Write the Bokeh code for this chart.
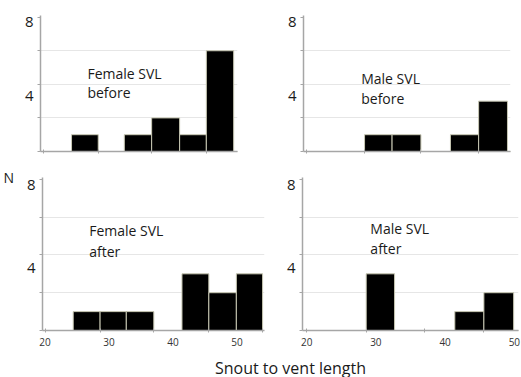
from bokeh.plotting import figure
from bokeh.layouts import column, row
from bokeh.models import Range1d, FixedTicker, Label
from bokeh.embed import file_html
from bokeh.resources import INLINE

# ---- data ----
bin_left = [24.4, 28.6, 32.7, 37.0, 41.4, 45.6, 49.9]
bin_right = [28.6, 32.7, 37.0, 41.4, 45.6, 49.9, 54.0]
female_before = [1, 0, 1, 2, 1, 6, 0]
male_before = [0, 1, 1, 0, 1, 3, 0]
female_after = [1, 1, 1, 0, 3, 2, 3]
male_after = [0, 3, 0, 0, 1, 2, 0]
x_tick_values = [20, 30, 40, 50]
x_tick_labels = ["20", "30", "40", "50"]
y_tick_labels = ["4", "8"]
panel_texts = [["Female SVL", "before"], ["Male SVL", "before"],
               ["Female SVL", "after"], ["Male SVL", "after"]]
x_title = "Snout to vent length"
y_title = "N"

FONT = "Open Sans"
AXIS_GRAY = "#a6a6a6"
TEXT = "#1a1a1a"
Y_LABEL_POS = [3.3, 7.7]


def panel(counts, xr, width, height, borders, texts, text_x, text_ys, show_x_labels):
    left_b, right_b, top_b, bottom_b = borders
    p = figure(width=width, height=height, x_range=Range1d(*xr), y_range=Range1d(0, 8.1),
               output_backend="svg", toolbar_location=None,
               min_border_left=left_b, min_border_right=right_b,
               min_border_top=top_b, min_border_bottom=bottom_b)
    p.outline_line_color = None
    p.background_fill_color = "white"
    p.quad(left=bin_left, right=bin_right, top=counts, bottom=0,
           fill_color="black", line_color="#c8c8b4", line_width=1)

    # y axis
    p.yaxis.ticker = FixedTicker(ticks=Y_LABEL_POS, minor_ticks=[0, 2, 4, 6, 8])
    p.yaxis.major_label_overrides = {Y_LABEL_POS[0]: y_tick_labels[0],
                                     Y_LABEL_POS[1]: y_tick_labels[1]}
    p.yaxis.major_tick_line_color = None
    p.yaxis.major_tick_in = 0
    p.yaxis.major_tick_out = 0
    p.yaxis.minor_tick_in = 0
    p.yaxis.minor_tick_out = 3
    p.yaxis.minor_tick_line_color = AXIS_GRAY
    p.yaxis.axis_line_color = AXIS_GRAY
    p.yaxis.axis_line_width = 1.5
    p.yaxis.major_label_text_font = FONT
    p.yaxis.major_label_text_font_size = "15px"
    p.yaxis.major_label_text_color = TEXT
    p.yaxis.major_label_standoff = 4

    # x axis
    minor = [20] + bin_right[::2]
    if show_x_labels:
        p.xaxis.ticker = FixedTicker(ticks=x_tick_values, minor_ticks=minor)
        p.xaxis.major_label_overrides = dict(zip(x_tick_values, x_tick_labels))
    else:
        p.xaxis.ticker = FixedTicker(ticks=[], minor_ticks=minor)
    p.xaxis.major_tick_line_color = None
    p.xaxis.major_tick_in = 0
    p.xaxis.major_tick_out = 0
    p.xaxis.minor_tick_in = 2
    p.xaxis.minor_tick_out = 2
    p.xaxis.minor_tick_line_color = AXIS_GRAY
    p.xaxis.axis_line_color = AXIS_GRAY
    p.xaxis.axis_line_width = 1.5
    p.xaxis.major_label_text_font = FONT
    p.xaxis.major_label_text_font_size = "10px"
    p.xaxis.major_label_text_color = "#333333"
    p.xaxis.major_label_standoff = 5

    # grid
    p.xgrid.visible = False
    p.ygrid.ticker = FixedTicker(ticks=[2, 4, 6])
    p.ygrid.grid_line_color = "#e6e6e6"
    p.ygrid.grid_line_width = 1

    for t, ty in zip(texts, text_ys):
        p.add_layout(Label(x=text_x, y=ty, text=t, text_font=FONT,
                           text_font_size="14px", text_color=TEXT,
                           text_align="left", text_baseline="alphabetic"))
    return p


tl = panel(female_before, (19.52, 50.5), 270, 165, (40, 33, 15, 14),
           panel_texts[0], 26.9, [4.65, 3.51], False)
tr = panel(male_before, (19.5, 50.35), 251, 165, (33, 11, 11, 12),
           panel_texts[1], 28.1, [4.34, 3.14], False)
bl = panel(female_after, (19.6, 54.3), 270, 190, (40, 6, 10, 23),
           panel_texts[2], 26.9, [5.28, 4.2], True)
br = panel(male_after, (19.4, 50.6), 251, 190, (32, 3, 12, 25),
           panel_texts[3], 29.2, [5.4, 4.32], True)

# "N" drawn as the (horizontal) y-axis title of the lower-left panel, at its top end
bl.yaxis.axis_label = y_title
bl.yaxis.axis_label_orientation = "horizontal"
bl.yaxis.axis_label_align = "end"
bl.yaxis.axis_label_standoff = 10
bl.yaxis.axis_label_text_font = FONT
bl.yaxis.axis_label_text_font_size = "14px"
bl.yaxis.axis_label_text_font_style = "normal"
bl.yaxis.axis_label_text_color = TEXT

xl = figure(width=521, height=22, x_range=Range1d(0, 521), y_range=Range1d(0, 22),
            output_backend="svg", toolbar_location=None,
            min_border_left=0, min_border_right=0, min_border_top=0, min_border_bottom=0)
xl.axis.visible = False
xl.grid.visible = False
xl.outline_line_color = None
xl.add_layout(Label(x=290, y=10, text=x_title, text_font=FONT, text_font_size="16px",
                    text_color=TEXT, text_align="center", text_baseline="middle"))

layout = column(row(tl, tr, spacing=0), row(bl, br, spacing=0), xl, spacing=0)

open("out.html", "w").write(file_html(layout, INLINE))
